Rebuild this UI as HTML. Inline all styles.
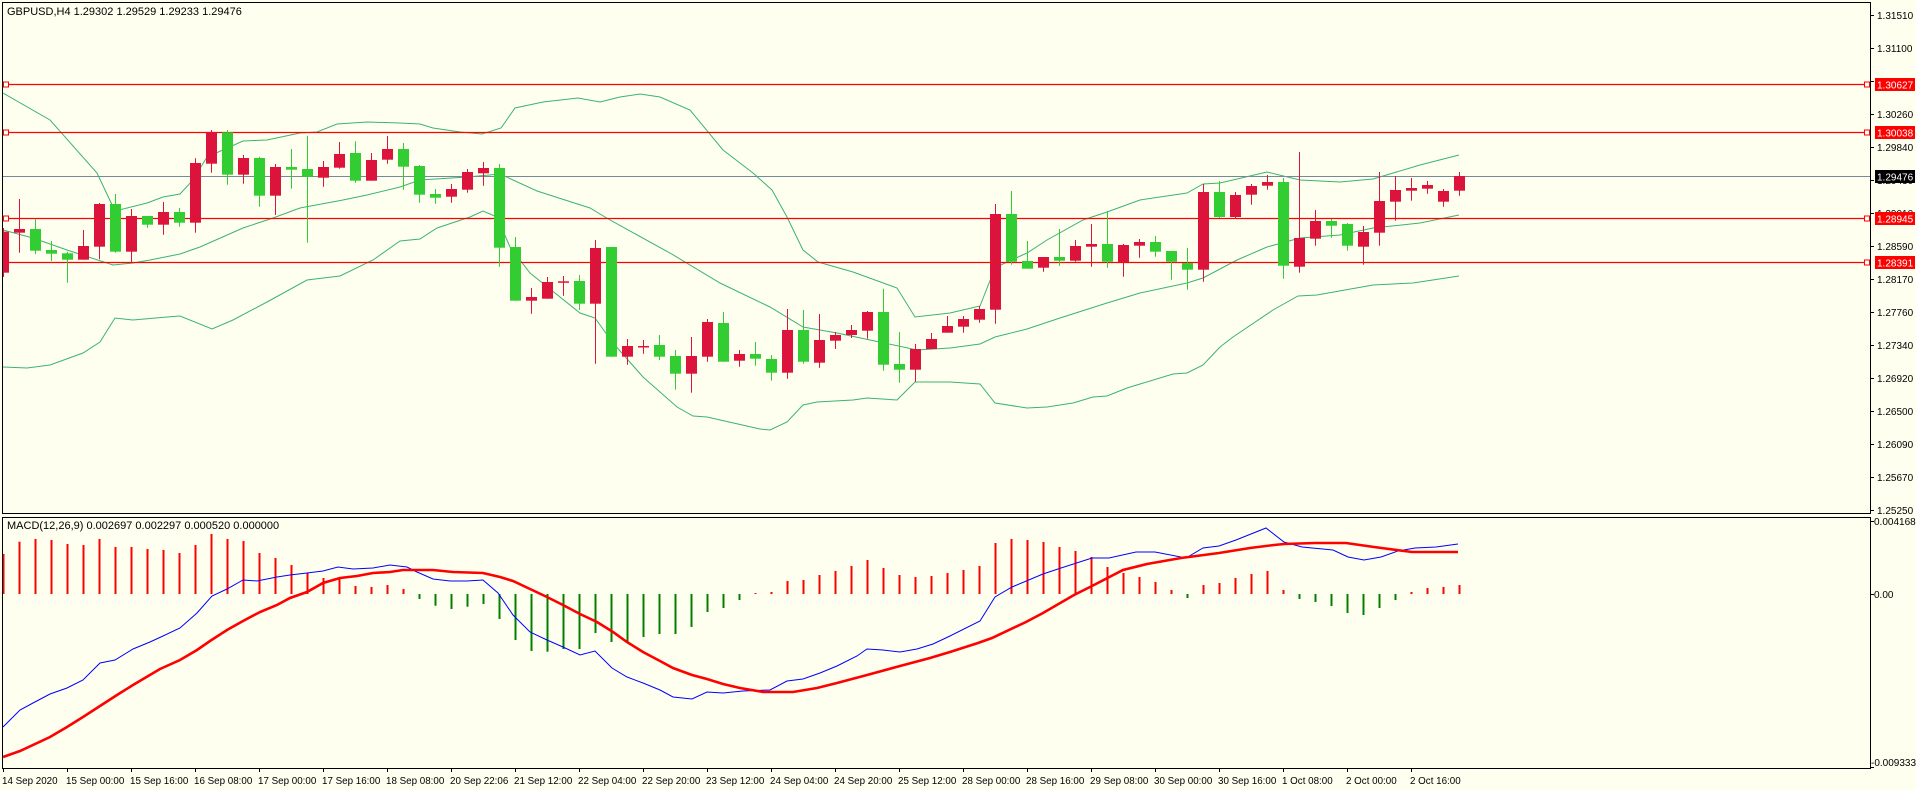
<!DOCTYPE html>
<html><head><meta charset="utf-8"><style>
html,body{margin:0;padding:0;background:#FFFFF0;}
svg{display:block;font-family:"Liberation Sans",sans-serif;}
</style></head><body>
<svg id="s" width="1916" height="790" viewBox="0 0 1916 790" xmlns="http://www.w3.org/2000/svg">
<rect x="0" y="0" width="1916" height="790" fill="#FFFFF0"/>
<defs>
<clipPath id="cm"><rect x="3" y="3" width="1867" height="510"/></clipPath>
<clipPath id="cd"><rect x="3" y="518" width="1867" height="250"/></clipPath>
</defs>
<g id="main" clip-path="url(#cm)"></g>
<g id="macd" clip-path="url(#cd)"></g>
<rect x="2.5" y="2.5" width="1868" height="511" fill="none" stroke="#000" stroke-width="1"/>
<rect x="2.5" y="517.5" width="1868" height="251" fill="none" stroke="#000" stroke-width="1"/>
<g id="ticks" stroke="#000"></g>
<g font-size="11" fill="#000">
<text x="7" y="15">GBPUSD,H4  1.29302 1.29529 1.29233 1.29476</text>
<text x="7" y="529">MACD(12,26,9) 0.002697 0.002297 0.000520 0.000000</text>
</g>
<g font-size="10" fill="#000" id="pl">
<text x="1877" y="19">1.31510</text>
<text x="1877" y="52">1.31100</text>
<text x="1877" y="118">1.30260</text>
<text x="1877" y="151">1.29840</text>
<text x="1877" y="184">1.29430</text>
<text x="1877" y="217">1.29010</text>
<text x="1877" y="250">1.28590</text>
<text x="1877" y="283">1.28170</text>
<text x="1877" y="316">1.27760</text>
<text x="1877" y="349">1.27340</text>
<text x="1877" y="382">1.26920</text>
<text x="1877" y="415">1.26500</text>
<text x="1877" y="448">1.26090</text>
<text x="1877" y="481">1.25670</text>
<text x="1877" y="514">1.25250</text>
<text x="1874" y="525">0.004168</text>
<text x="1874" y="598">0.00</text>
<text x="1871" y="766">-0.009333</text>
</g>
<g font-size="10">
<rect x="1875" y="78" width="40" height="13" fill="#FF0000"/><text x="1877" y="88.5" fill="#fff">1.30627</text>
<rect x="1875" y="126" width="40" height="13" fill="#FF0000"/><text x="1877" y="136.5" fill="#fff">1.30038</text>
<rect x="1875" y="170" width="40" height="13" fill="#000"/><text x="1877" y="180.5" fill="#fff">1.29476</text>
<rect x="1875" y="212" width="40" height="13" fill="#FF0000"/><text x="1877" y="222.5" fill="#fff">1.28945</text>
<rect x="1875" y="256" width="40" height="13" fill="#FF0000"/><text x="1877" y="266.5" fill="#fff">1.28391</text>
</g>
<g font-size="9.8" fill="#000">
<text x="2" y="784">14 Sep 2020</text>
<text x="66" y="784">15 Sep 00:00</text>
<text x="130" y="784">15 Sep 16:00</text>
<text x="194" y="784">16 Sep 08:00</text>
<text x="258" y="784">17 Sep 00:00</text>
<text x="322" y="784">17 Sep 16:00</text>
<text x="386" y="784">18 Sep 08:00</text>
<text x="450" y="784">20 Sep 22:06</text>
<text x="514" y="784">21 Sep 12:00</text>
<text x="578" y="784">22 Sep 04:00</text>
<text x="642" y="784">22 Sep 20:00</text>
<text x="706" y="784">23 Sep 12:00</text>
<text x="770" y="784">24 Sep 04:00</text>
<text x="834" y="784">24 Sep 20:00</text>
<text x="898" y="784">25 Sep 12:00</text>
<text x="962" y="784">28 Sep 00:00</text>
<text x="1026" y="784">28 Sep 16:00</text>
<text x="1090" y="784">29 Sep 08:00</text>
<text x="1154" y="784">30 Sep 00:00</text>
<text x="1218" y="784">30 Sep 16:00</text>
<text x="1282" y="784">1 Oct 08:00</text>
<text x="1346" y="784">2 Oct 00:00</text>
<text x="1410" y="784">2 Oct 16:00</text>
</g>
</svg>
<script>
var NS="http://www.w3.org/2000/svg";
function el(p,t,a){var e=document.createElementNS(NS,t);for(var k in a)e.setAttribute(k,a[k]);p.appendChild(e);return e;}
var M=document.getElementById("main"),D=document.getElementById("macd"),T=document.getElementById("ticks");
var up=[[3,93],[50,120],[97,173],[115,211],[147,203],[163,197],[180,194],[193,180],[207,157],[243,141],[267,140],[300,133],[317,132],[337,124],[367,122],[400,123],[420,124],[433,128],[460,132],[482,134],[501,128],[515,108],[543,102],[578,98],[600,102],[620,97],[640,94],[660,97],[690,110],[723,150],[753,173],[772,190],[787,217],[803,250],[818,262],[853,272],[897,288],[915,317],[950,313],[980,306],[995,268],[1007,262],[1027,253],[1047,240],[1083,220],[1107,212],[1140,200],[1187,193],[1203,184],[1220,183],[1267,172],[1300,180],[1340,182],[1373,179],[1420,165],[1459,155]];
var mid=[[3,230],[33,238],[67,250],[113,265],[133,263],[150,260],[180,254],[200,247],[243,228],[273,218],[300,208],[343,200],[367,195],[400,187],[420,180],[467,177],[500,174],[537,191],[590,208],[610,220],[670,253],[720,283],[770,307],[803,327],[837,333],[870,340],[917,350],[950,348],[980,344],[995,337],[1027,329],[1060,318],[1107,303],[1140,293],[1187,283],[1203,278],[1237,260],[1267,247],[1300,238],[1340,235],[1373,228],[1420,223],[1459,215]];
var lo=[[3,367],[27,368],[50,365],[83,353],[100,342],[115,318],[133,320],[167,317],[180,316],[212,329],[233,320],[267,302],[307,280],[340,276],[373,260],[400,241],[420,239],[437,228],[470,217],[483,211],[497,217],[510,247],[530,273],[580,313],[595,318],[613,343],[643,377],[677,407],[693,416],[707,417],[760,429],[770,430],[787,422],[803,405],[817,402],[853,400],[867,398],[897,400],[915,382],[950,382],[980,384],[995,403],[1027,408],[1047,407],[1073,403],[1093,397],[1107,396],[1127,388],[1173,374],[1187,373],[1203,365],[1220,347],[1233,337],[1273,310],[1298,296],[1317,295],[1373,285],[1413,283],[1459,276]];
[up,mid,lo].forEach(function(a){el(M,"polyline",{points:a.join(" "),fill:"none",stroke:"#3CB371","stroke-width":1});});
[84.5,132.5,218.5,262.5].forEach(function(y){el(M,"line",{x1:0,x2:1870,y1:y,y2:y,stroke:"#FF0000","stroke-width":1.3});
 el(M,"rect",{x:3.5,y:y-2.5,width:5,height:5,fill:"#fff",stroke:"#FF0000"});el(M,"rect",{x:1864.5,y:y-2.5,width:5,height:5,fill:"#fff",stroke:"#FF0000"});});
el(M,"line",{x1:0,x2:1870,y1:176.5,y2:176.5,stroke:"#778899","stroke-width":1});
var C=[[231.7,272.7,228,277,0],[229,232.7,199,252.7,0],[229,250.7,218.7,254,1],[250,253.7,241,261,1],[253.3,259.7,251.7,282.7,1],[246,259.7,230,259.7,0],[204,246.7,203,259.3,0],[204,251.7,194,252.7,1],[216,251.7,209,263.3,0],[216,224.7,216,227.7,1],
[212,224.7,202,234.7,0],[212,222.7,208,226.7,1],[163,222.7,158.3,232.7,0],[132.3,163.7,130,172.7,0],[132.3,174.7,130,184.7,1],[158,174.7,155,183.7,0],[158,195.7,156.7,206.7,1],[167,195.7,164,215,0],[167,169.7,149,188.7,1],[169,176.7,135.7,242.7,1],
[167,177.7,161,186.7,0],[154,167.7,142,168.7,0],[153,180.7,141.3,182.7,1],[160,180.7,153,180.7,0],[149,159.7,136,163.7,0],[149,166.7,143,189.7,1],[166,194.7,165,202.7,1],[194,197.7,189,203.7,1],[189,196.7,184,202.7,0],[172,189.7,169,192.7,0],
[168,173.3,162,185.7,0],[168,247.7,164,266.7,1],[247,300.7,237,300.7,1],[297,300.7,288,313.7,0],[282,298.7,277,298.7,0],[281.3,282.7,276,295.7,0],[281,303.7,275,310,1],[248,303.7,240,363.7,0],[247,356.7,247,356.7,1],[346,356.7,339,364.7,0],
[346,347,340,353.7,0],[345,356.7,335,360,1],[356,373.7,350,389.7,1],[356,373.7,337,392.7,0],[322,356.7,319,361.7,0],[323,361.7,312,361.7,1],[354,360.7,350,366.7,0],[354,358.7,342,365.7,1],[359,372.7,355,380.7,1],[330,372.7,309,378.7,0],
[330,361.7,310,363.7,1],[340,362.7,314,367.7,0],[335,340.7,332,349,0],[330,335,325,338,0],[312,330.7,311,338.7,0],[312,364.7,288.7,370.7,1],[364,369.7,332,382.7,1],[349,369.7,344,381.7,0],[339,349,333,349,0],[326,332.7,316,332.7,0],
[319,326.7,316,332.7,0],[309,319.7,306,322.7,0],[214,309.7,204,323.7,0],[214,261.7,191,264.7,1],[261,268.7,241,268.7,1],[257,267.7,257,271.7,0],[257,260.7,229,265.7,1],[246,260.7,240,261.7,0],[244,246.7,224,266.7,0],[244,261.7,211,267.7,1],
[245,262,244,276.7,0],[242,245.7,239,257.7,0],[242,251.7,236,256.7,1],[251,261.7,251,279.7,1],[263,269.7,248,289.7,1],[192,269.7,184,281.7,0],[192,217,181,218,1],[195,217,192,218,0],[186,194.7,184,204.7,0],[182,185.7,175,189.7,0],
[182,265.7,178,278.7,1],[238,266.7,152,272.7,0],[221,238.7,210,245.7,0],[221,225.7,219,237.7,1],[224,245.7,223,250.7,1],[232,246.7,226,264.7,0],[201,232.7,172,245.7,0],[190,201.7,176,220.7,0],[188,190.7,178,200.7,0],[185,188.7,181,193.7,0],
[191,201.7,189,206.7,0],[176,190.7,172,195.7,0]];
C.forEach(function(c,i){var x=Math.round(3.3+16*i);var col=c[4]?"#32CD32":"#DC143C";
 el(M,"line",{x1:x+0.5,x2:x+0.5,y1:c[2],y2:c[3],stroke:col,"stroke-width":1});
 var h=Math.max(c[1]-c[0],1.5);el(M,"rect",{x:x-5,y:c[0],width:11,height:h,fill:col});});
var H=[554,541.7,539,540,544,545,539,547,547,549,550,553,545,534,539,541,553,558,565,573,578,578,586,587,585,589,599,605.7,609,606.7,
604,619,640,651,651.7,649,649,633,642,642,637,634,634,627,612,608,600,593,592,581,580,575,571,566,560,568,575,577,576,573,
570,566,543,539,540,542,547,551,557,567,573,577,582,590,598,585,583,578,574,571,590,599,602,606,613,615,608,600,592,588,587,585];
H.forEach(function(v,i){var x=Math.round(3.3+16*i);var g=v>594;
 el(D,"rect",{x:x-0.5,y:g?594:v,width:2,height:Math.max(Math.abs(v-594),1),fill:g?"#008000":"#FF0000"});});
var bl=[[3,727],[20,710],[33,703],[50,694],[67,688],[83,680],[100,663],[115,660],[133,649],[150,642],[163,636],[180,628],[197,613],[212,596],[227,589],[243,580],[257,581],[277,577],[290,575],[307,573],[323,571],[338,567],[353,569],[373,568],[390,565],[407,567],[417,572],[433,579],[450,581],[467,581],[483,580],[498,593],[513,615],[530,632],[547,640],[563,647],[580,655],[595,651],[612,668],[627,677],[643,683],[660,690],[673,697],[692,699],[707,692],[723,693],[743,691],[770,690],[787,681],[803,679],[820,673],[837,666],[857,656],[867,649],[883,650],[900,652],[917,649],[933,644],[950,636],[980,621],[995,597],[1012,587],[1043,574],[1061,568],[1092,558],[1109,558],[1136,552],[1155,552],[1186,558],[1203,548],[1219,546],[1236,540],[1266,528],[1284,542],[1302,547],[1333,550],[1348,557],[1364,560],[1381,557],[1398,551],[1415,548],[1436,547],[1458,544]];
var sl=[[3,757],[20,751],[50,737],[67,727],[83,717],[100,706],[117,695],[133,685],[160,669],[180,660],[197,650],[210,641],[227,630],[243,621],[260,612],[277,605],[290,598],[307,592],[323,583],[340,578],[357,576],[373,573],[390,572],[403,570],[433,570],[453,572],[483,573],[500,577],[513,581],[530,589],[547,597],[563,605],[580,614],[597,622],[613,632],[627,642],[643,652],[660,661],[673,668],[692,675],[707,679],[723,684],[740,688],[763,692],[793,692],[817,688],[837,683],[867,675],[900,666],[930,658],[950,652],[978,643],[992,638],[1026,622],[1043,613],[1074,595],[1092,586],[1123,570],[1147,564],[1181,558],[1219,553],[1250,548],[1274,545],[1284,544],[1315,543],[1346,543],[1374,547],[1412,552],[1458,552]];
el(D,"polyline",{points:bl.join(" "),fill:"none",stroke:"#0000FF","stroke-width":1});
el(D,"polyline",{points:sl.join(" "),fill:"none",stroke:"#FF0000","stroke-width":2.6});
for(var i=0;i<16;i++){var y=15+33*i+0.5;el(T,"line",{x1:1870,x2:1874,y1:y,y2:y});}
[521.5,594.5,767.5].forEach(function(y){el(T,"line",{x1:1870,x2:1874,y1:y,y2:y});});
for(var k=0;k<23;k++){var x=3+64*k+0.5;el(T,"line",{x1:x,x2:x,y1:768,y2:772});}
</script>
</body></html>
